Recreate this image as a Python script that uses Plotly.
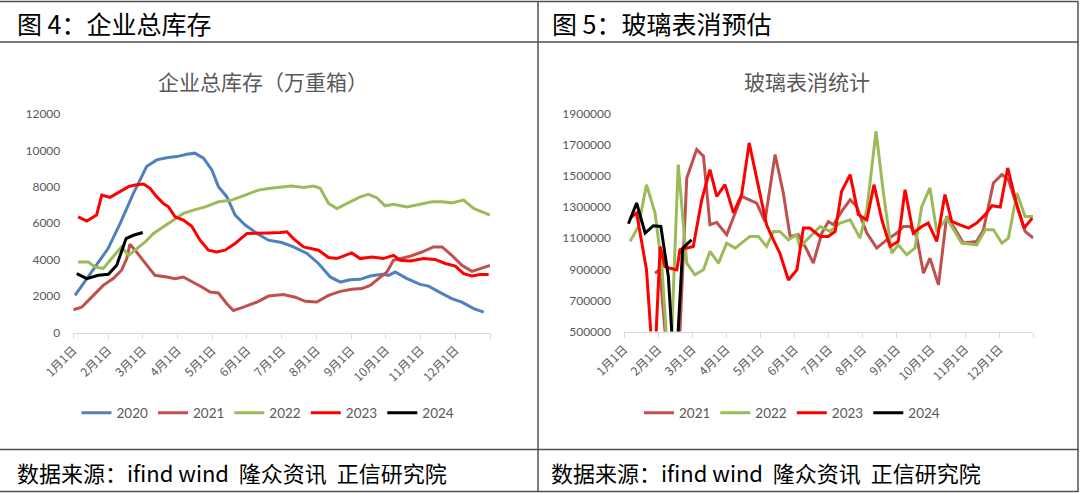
import plotly.graph_objects as go

# ---------------- data ----------------
months = ["1月1日", "2月1日", "3月1日", "4月1日", "5月1日", "6月1日",
          "7月1日", "8月1日", "9月1日", "10月1日", "11月1日", "12月1日", ""]

# Left chart: 企业总库存（万重箱）; x = position in months since 1月1日
inv_2020_x = [0.05, 0.53, 1.00, 1.35, 1.73, 1.97, 2.11, 2.40, 2.69, 2.98, 3.27, 3.50, 3.75, 3.99,
              4.18, 4.42, 4.66, 4.95, 5.29, 5.62, 6.00, 6.34, 6.73, 7.06, 7.40, 7.69, 7.97, 8.26,
              8.55, 8.89, 9.08, 9.27, 9.61, 9.99, 10.23, 10.57, 10.90, 11.19, 11.53, 11.82]
inv_2020_y = [2040, 3320, 4610, 5990, 7640, 8560, 9110, 9480, 9600, 9660, 9790, 9850, 9570, 8930,
              8010, 7460, 6450, 5900, 5440, 5070, 4940, 4700, 4340, 3790, 3050, 2770, 2900, 2920,
              3100, 3200, 3140, 3320, 2960, 2640, 2550, 2190, 1860, 1670, 1310, 1120]

inv_2021_x = [0.00, 0.24, 0.58, 0.86, 1.15, 1.39, 1.54, 1.63, 1.78, 2.07, 2.35, 2.69, 2.93, 3.17,
              3.46, 3.70, 3.94, 4.18, 4.42, 4.61, 4.90, 5.29, 5.62, 6.05, 6.39, 6.68, 7.01, 7.35,
              7.69, 8.02, 8.31, 8.55, 8.79, 9.03, 9.22, 9.41, 9.70, 10.04, 10.37, 10.62, 10.90,
              11.19, 11.48, 11.72, 12.00]
inv_2021_y = [1250, 1390, 2040, 2590, 2960, 3420, 4060, 4850, 4520, 3790, 3140, 3050, 2960, 3050,
              2770, 2500, 2220, 2170, 1580, 1210, 1390, 1670, 2000, 2080, 1940, 1710, 1670, 2040,
              2260, 2370, 2410, 2590, 2960, 3320, 3970, 4060, 4190, 4420, 4700, 4700, 4240,
              3690, 3360, 3510, 3690]

inv_2022_x = [0.14, 0.43, 0.63, 0.86, 1.06, 1.25, 1.39, 1.59, 1.83, 2.07, 2.31, 2.59, 2.93, 3.17,
              3.46, 3.80, 4.18, 4.56, 4.95, 5.33, 5.67, 6.29, 6.63, 6.92, 7.11, 7.35, 7.59, 7.88,
              8.26, 8.50, 8.74, 8.98, 9.22, 9.61, 9.99, 10.33, 10.62, 10.90, 11.24, 11.53, 12.00]
inv_2022_y = [3870, 3870, 3600, 3510, 3970, 4420, 4700, 4240, 4610, 4970, 5440, 5800, 6260, 6540,
              6720, 6900, 7180, 7270, 7550, 7820, 7920, 8040, 7970, 8040, 7920, 7090, 6810, 7090,
              7450, 7590, 7400, 6960, 7040, 6900, 7040, 7180, 7180, 7120, 7270, 6810, 6450]

inv_2023_x = [0.14, 0.39, 0.67, 0.82, 1.06, 1.35, 1.59, 1.78, 2.02, 2.21, 2.40, 2.59, 2.74, 2.93,
              3.17, 3.41, 3.65, 3.89, 4.13, 4.37, 4.66, 5.00, 5.29, 5.62, 5.96, 6.15, 6.34, 6.63,
              7.06, 7.35, 7.59, 8.02, 8.26, 8.60, 8.93, 9.22, 9.41, 9.70, 10.09, 10.42, 10.71,
              11.00, 11.24, 11.48, 11.72, 11.96]
inv_2023_y = [6350, 6120, 6450, 7550, 7420, 7730, 8010, 8100, 8150, 7920, 7460, 7090, 6900, 6350,
              6170, 5840, 5070, 4520, 4420, 4520, 4890, 5440, 5440, 5470, 5490, 5530, 5160, 4700,
              4520, 4120, 4060, 4370, 4060, 4150, 4060, 4240, 3970, 3930, 4060, 4010, 3790,
              3650, 3230, 3100, 3180, 3180]

inv_2024_x = [0.10, 0.39, 0.72, 1.01, 1.25, 1.52, 1.73, 2.00]
inv_2024_y = [3230, 2960, 3140, 3200, 3690, 5160, 5340, 5490]

inv_ticks = [0, 2000, 4000, 6000, 8000, 10000, 12000]

# Right chart: 玻璃表消统计
con_2021_x = [0.91, 1.05, 1.30, 1.60, 1.84, 2.13, 2.33, 2.52, 2.72, 3.01, 3.45, 3.89, 4.13, 4.43,
              4.67, 4.87, 5.11, 5.36, 5.55, 5.80, 5.99, 6.14, 6.38, 6.63, 6.82, 7.12, 7.41, 7.70,
              8.00, 8.19, 8.39, 8.58, 8.78, 8.97, 9.22, 9.46, 9.66, 9.95, 10.34, 10.54, 10.83,
              11.08, 11.27, 11.52, 11.76, 12.00]
con_2021_y = [875000, 900000, 250000, 300000, 1488000, 1671000, 1628000, 1187000, 1202000,
              1123000, 1370000, 1327000, 1208000, 1639000, 1392000, 1112000, 1123000, 1026000,
              940000, 1134000, 1208000, 1187000, 1273000, 1348000, 1305000, 1134000, 1037000,
              1090000, 1134000, 1176000, 1176000, 1112000, 875000, 972000, 800000, 1241000,
              1176000, 1069000, 1080000, 1155000, 1456000, 1510000, 1477000, 1305000, 1144000,
              1101000]

con_2022_x = [0.18, 0.42, 0.66, 0.91, 1.11, 1.34, 1.59, 1.84, 2.08, 2.33, 2.52, 2.77, 3.01, 3.26,
              3.69, 3.94, 4.18, 4.38, 4.57, 4.82, 5.06, 5.16, 5.36, 5.75, 6.04, 6.33, 6.63, 6.92,
              7.12, 7.39, 7.60, 7.85, 8.04, 8.29, 8.53, 8.73, 8.97, 9.17, 9.46, 9.90, 10.34,
              10.59, 10.83, 11.08, 11.27, 11.52, 11.76, 12.00]
con_2022_y = [1080000, 1176000, 1445000, 1263000, 918000, 150000, 1574000, 940000, 865000,
              897000, 1015000, 940000, 1069000, 1037000, 1112000, 1112000, 1047000, 1144000,
              1144000, 1090000, 1123000, 1040000, 1090000, 1176000, 1144000, 1198000, 1219000,
              1101000, 1284000, 1789000, 1402000, 1004000, 1058000, 994000, 1037000, 1305000,
              1424000, 1144000, 1230000, 1069000, 1058000, 1155000, 1155000, 1069000, 1101000,
              1392000, 1241000, 1241000]

con_2023_x = [0.18, 0.37, 0.66, 0.88, 1.06, 1.20, 1.38, 1.55, 1.64, 2.03, 2.28, 2.52, 2.72, 2.96,
              3.21, 3.45, 3.67, 3.89, 4.18, 4.38, 4.57, 4.82, 5.07, 5.26, 5.45, 5.75, 5.99, 6.19,
              6.38, 6.63, 6.87, 7.12, 7.33, 7.56, 7.80, 8.04, 8.24, 8.48, 8.73, 8.92, 9.17, 9.41,
              9.61, 9.85, 10.10, 10.34, 10.59, 10.79, 11.03, 11.25, 11.50, 11.73, 11.97]
con_2023_y = [1230000, 1263000, 897000, 200000, 1047000, 918000, 905000, 897000, 1026000,
              1047000, 1348000, 1542000, 1370000, 1445000, 1263000, 1381000, 1714000, 1477000,
              1187000, 1090000, 1004000, 832000, 897000, 1166000, 1166000, 1112000, 1112000,
              1144000, 1402000, 1510000, 1252000, 1219000, 1445000, 1219000, 1047000, 1080000,
              1413000, 1134000, 1176000, 1198000, 1080000, 1381000, 1208000, 1187000, 1166000,
              1198000, 1252000, 1310000, 1301000, 1553000, 1327000, 1166000, 1230000]

con_2024_x = [0.13, 0.37, 0.62, 0.86, 1.08, 1.30, 1.50, 1.72, 1.98]
con_2024_y = [1194000, 1327000, 1134000, 1181000, 1176000, 854000, 146000, 1037000, 1090000]

con_ticks = [500000, 700000, 900000, 1100000, 1300000, 1500000, 1700000, 1900000]

# ---------------- styling ----------------
C20, C21, C22, C23, C24 = "#4F81BD", "#C0504D", "#9BBB59", "#FF0000", "#000000"
GRAY = "#595959"
FONT = "Lato, Noto Sans CJK SC, sans-serif"
CJK = "Noto Sans CJK SC, Lato, sans-serif"
W, H = 1080, 493

fig = go.Figure()

def add(x, y, name, color, xa, ya, legend):
    fig.add_trace(go.Scatter(x=x, y=y, name=name, mode="lines",
                             line=dict(color=color, width=3),
                             xaxis=xa, yaxis=ya, legend=legend))

add(inv_2020_x, inv_2020_y, "2020", C20, "x", "y", "legend")
add(inv_2021_x, inv_2021_y, "2021", C21, "x", "y", "legend")
add(inv_2022_x, inv_2022_y, "2022", C22, "x", "y", "legend")
add(inv_2023_x, inv_2023_y, "2023", C23, "x", "y", "legend")
add(inv_2024_x, inv_2024_y, "2024", C24, "x", "y", "legend")

add(con_2021_x, con_2021_y, "2021", C21, "x2", "y2", "legend2")
add(con_2022_x, con_2022_y, "2022", C22, "x2", "y2", "legend2")
add(con_2023_x, con_2023_y, "2023", C23, "x2", "y2", "legend2")
add(con_2024_x, con_2024_y, "2024", C24, "x2", "y2", "legend2")

xcommon = dict(range=[0, 12], tickmode="array", tickvals=list(range(13)), ticktext=months,
               tickangle=-45, ticks="outside", ticklen=5, tickcolor="#D9D9D9",
               showline=True, linecolor="#D9D9D9", linewidth=1, showgrid=False, zeroline=False,
               tickfont=dict(family=CJK, size=12, color=GRAY), fixedrange=True, automargin=False)
ycommon = dict(showgrid=False, zeroline=False, showline=False, ticks="", automargin=False,
               tickfont=dict(family=FONT, size=12, color=GRAY), ticklabelstandoff=12)

fig.update_layout(
    template="none",
    width=W, height=H, margin=dict(l=0, r=0, t=0, b=0, pad=0, autoexpand=False),
    paper_bgcolor="white", plot_bgcolor="white",
    xaxis=dict(domain=[73.3 / W, 490 / W], anchor="y", **xcommon),
    yaxis=dict(domain=[1 - 332.5 / H, 1 - 114 / H], anchor="x", range=[0, 12000],
               tickmode="array", tickvals=inv_ticks, ticktext=[str(v) for v in inv_ticks], **ycommon),
    xaxis2=dict(domain=[624 / W, 1033.3 / W], anchor="y2", **xcommon),
    yaxis2=dict(domain=[1 - 331.5 / H, 1 - 114 / H], anchor="x2", range=[500000, 1900000],
                tickmode="array", tickvals=con_ticks, ticktext=[str(v) for v in con_ticks], **ycommon),
    legend=dict(orientation="h", x=268 / W, xanchor="center", y=1 - 413 / H, yanchor="middle",
                font=dict(family=FONT, size=13.5, color=GRAY), bgcolor="rgba(0,0,0,0)"),
    legend2=dict(orientation="h", x=792 / W, xanchor="center", y=1 - 413 / H, yanchor="middle",
                 font=dict(family=FONT, size=13.5, color=GRAY), bgcolor="rgba(0,0,0,0)"),
    showlegend=True,
)

ann = [
    dict(text="企业总库存（万重箱）", x=262.5 / W, y=1 - 81 / H, font=dict(family=CJK, size=21, color=GRAY),
         xanchor="center"),
    dict(text="玻璃表消统计", x=806.5 / W, y=1 - 81 / H, font=dict(family=CJK, size=21, color=GRAY),
         xanchor="center"),
    dict(text="图 4：企业总库存", x=15 / W, y=1 - 22.5 / H, font=dict(family=CJK, size=25, color="#000000"),
         xanchor="left"),
    dict(text="图 5：玻璃表消预估", x=550 / W, y=1 - 22.5 / H, font=dict(family=CJK, size=25, color="#000000"),
         xanchor="left"),
    dict(text="数据来源：ifind wind  隆众资讯  正信研究院", x=15 / W, y=1 - 472 / H,
         font=dict(family=CJK, size=22, color="#000000"), xanchor="left"),
    dict(text="数据来源：ifind wind  隆众资讯  正信研究院", x=548.5 / W, y=1 - 472 / H,
         font=dict(family=CJK, size=22, color="#000000"), xanchor="left"),
]
for a in ann:
    a.update(xref="paper", yref="paper", yanchor="middle", showarrow=False)
fig.update_layout(annotations=ann)

BORDER = "#505050"
shapes = []
for py in [1.5, 42, 449.5, 491.5]:
    shapes.append(dict(type="line", xref="paper", yref="paper", x0=0, x1=1078.5 / W,
                       y0=1 - py / H, y1=1 - py / H, line=dict(color=BORDER, width=1.5)))
for px in [538, 1078]:
    shapes.append(dict(type="line", xref="paper", yref="paper", x0=px / W, x1=px / W,
                       y0=1 - 491.5 / H, y1=1 - 1.5 / H, line=dict(color=BORDER, width=1.5)))
fig.update_layout(shapes=shapes)

fig.write_html("out.html", config={"displayModeBar": False, "staticPlot": True})

# remove the browser's default page margin so the figure sits at the window origin
with open("out.html", "r", encoding="utf-8") as f:
    html = f.read()
html = html.replace("<body>", '<body style="margin:0;padding:0;overflow:hidden">', 1)
html = html.replace("<head>", '<head><style>html,body{margin:0;padding:0;overflow:hidden;}</style>', 1)
with open("out.html", "w", encoding="utf-8") as f:
    f.write(html)
